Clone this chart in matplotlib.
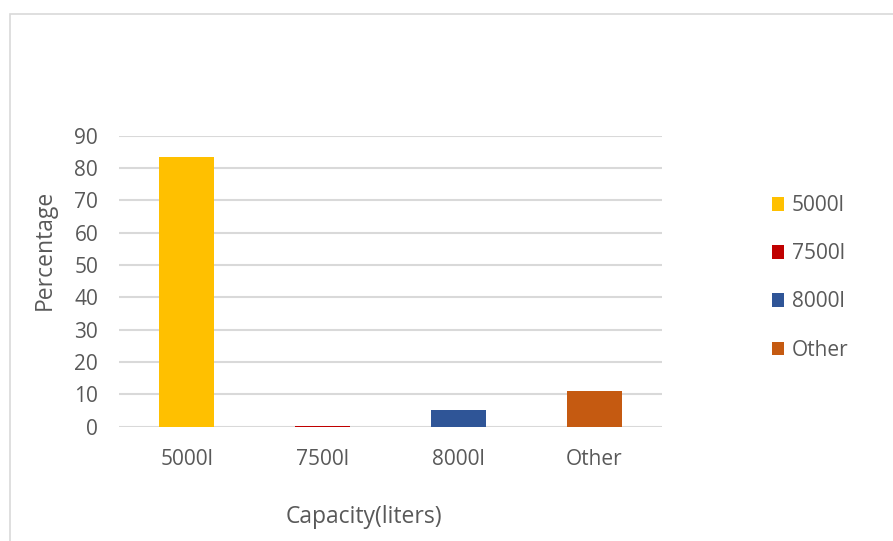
import matplotlib
matplotlib.use('Agg')
import matplotlib.pyplot as plt
from matplotlib.patches import Rectangle

# share of tanks by capacity
categories = ['5000l', '7500l', '8000l', 'Other']
percentages = [83.3, 0.3, 5.1, 10.9]
colors = ['#FFC000', '#C00000', '#2F5597', '#C55A11']
yticks = [0, 10, 20, 30, 40, 50, 60, 70, 80, 90]

plt.rcParams['font.family'] = ['Open Sans', 'DejaVu Sans']
text_color = '#595959'
grid_color = '#D9D9D9'

W, H = 893, 541
fig = plt.figure(figsize=(W / 100, H / 100), dpi=100)
ax = fig.add_axes([119 / W, (H - 426.7) / H, (662 - 119) / W, 291 / H])

bars = ax.bar(range(len(categories)), percentages, width=0.405,
              color=colors, label=categories, zorder=3)

ax.set_xlim(-0.5, len(categories) - 0.5)
ax.set_ylim(0, 90)
ax.set_yticks(yticks)
ax.set_xticks(range(len(categories)))
ax.set_xticklabels(categories)
ax.yaxis.grid(True, color=grid_color, linewidth=1.5, zorder=0)
ax.tick_params(length=0, labelsize=15, labelcolor=text_color)
ax.tick_params(axis='y', pad=15)
ax.tick_params(axis='x', pad=16)
for s in ax.spines.values():
    s.set_visible(False)

fig.text(45 / W, 1 - 250 / H, 'Percentage', rotation=90, ha='center',
         va='center', fontsize=16.5, color=text_color)
fig.text(364 / W, 1 - 517 / H, 'Capacity(liters)', ha='center',
         va='center', fontsize=16.5, color=text_color)

leg = fig.legend(handles=bars, labels=categories,
                 loc='upper left', bbox_to_anchor=(753 / W, 1 - 176.5 / H),
                 frameon=False, fontsize=15, handlelength=0.6,
                 handleheight=0.6, handletextpad=0.35, labelspacing=1.3)
for t in leg.get_texts():
    t.set_color(text_color)

# chart area border
fig.add_artist(Rectangle((10 / W, -0.1), 1.2, 1.1 - 14 / H,
                         transform=fig.transFigure, fill=False,
                         edgecolor=grid_color, linewidth=1.2))

fig.savefig('out.png', dpi=100, facecolor='white')
